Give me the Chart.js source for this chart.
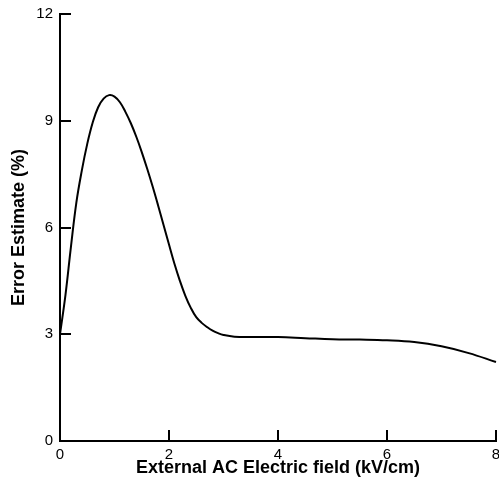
<!DOCTYPE html>
<html>
<head>
<meta charset="utf-8">
<script src="https://cdn.jsdelivr.net/npm/chart.js@4/dist/chart.umd.min.js"></script>
<style>
  html, body { margin: 0; padding: 0; background: #fff; }
  #wrap { width: 499px; height: 483px; }
</style>
</head>
<body>
<div id="wrap"><canvas id="chart"></canvas></div>
<script>
/* field values (kV/cm) and error estimate (%) */
const FIELD = [0, 0.1, 0.2, 0.3, 0.4, 0.5, 0.6, 0.7, 0.8, 0.9, 1.0, 1.1, 1.2, 1.3, 1.4, 1.5, 1.6, 1.7, 1.8, 1.9,
               2.0, 2.1, 2.2, 2.3, 2.4, 2.5, 2.6, 2.7, 2.8, 2.9, 3.0, 3.2, 3.5, 4.0, 4.5, 5.0, 5.5, 6.0, 6.5,
               7.0, 7.5, 8.0];
const ERROR = [3.0, 4.1, 5.45, 6.7, 7.6, 8.35, 8.95, 9.38, 9.62, 9.72, 9.68, 9.52, 9.25, 8.93, 8.55, 8.12,
               7.65, 7.15, 6.62, 6.07, 5.52, 4.98, 4.5, 4.08, 3.74, 3.48, 3.32, 3.2, 3.1, 3.03, 2.98, 2.93,
               2.92, 2.92, 2.89, 2.86, 2.85, 2.83, 2.78, 2.66, 2.47, 2.22];
const X_TICKS = [0, 2, 4, 6, 8];
const Y_TICKS = [0, 3, 6, 9, 12];

const FONT = 'Liberation Sans, Arial, Helvetica, sans-serif';

/* inward tick marks, like the original plot */
const inwardTicks = {
  id: 'inwardTicks',
  afterDraw(chart) {
    const { ctx, chartArea, scales: { x, y } } = chart;
    const len = 11;
    ctx.save();
    ctx.strokeStyle = '#000';
    ctx.lineWidth = 2;
    ctx.beginPath();
    X_TICKS.forEach(v => {
      const px = Math.round(x.getPixelForValue(v));
      ctx.moveTo(px, chartArea.bottom);
      ctx.lineTo(px, chartArea.bottom - len);
    });
    Y_TICKS.forEach(v => {
      const py = Math.round(y.getPixelForValue(v));
      ctx.moveTo(chartArea.left, py);
      ctx.lineTo(chartArea.left + len, py);
    });
    ctx.stroke();
    ctx.restore();
  },
};

new Chart(document.getElementById('chart'), {
  type: 'scatter',
  data: {
    datasets: [{
      data: FIELD.map((f, i) => ({ x: f, y: ERROR[i] })),
      showLine: true,
      borderColor: '#000',
      borderWidth: 2,
      pointRadius: 0,
      tension: 0.4,
      clip: false,
    }],
  },
  options: {
    responsive: true,
    maintainAspectRatio: false,
    animation: false,
    events: [],
    layout: { padding: { top: 14, right: 3, left: 0, bottom: 0 } },
    plugins: { legend: { display: false }, tooltip: { enabled: false } },
    scales: {
      x: {
        type: 'linear',
        min: 0, max: 8,
        afterBuildTicks: s => { s.ticks = X_TICKS.map(v => ({ value: v })); },
        afterFit: s => { s.height = 42; s.paddingLeft = 0; s.paddingRight = 0; },
        grid: { drawOnChartArea: false, drawTicks: false },
        border: { display: true, color: '#000', width: 2 },
        ticks: { color: '#000', padding: 5, font: { family: FONT, size: 15 }, maxRotation: 0 },
        title: {
          display: true,
          text: 'External AC Electric field (kV/cm)',
          color: '#000',
          font: { family: FONT, size: 18, weight: 'bold' },
          padding: { top: 0, bottom: 4 },
        },
      },
      y: {
        type: 'linear',
        min: 0, max: 12,
        afterBuildTicks: s => { s.ticks = Y_TICKS.map(v => ({ value: v })); },
        afterFit: s => { s.width = 60; s.paddingTop = 0; s.paddingBottom = 0; },
        grid: { drawOnChartArea: false, drawTicks: false },
        border: { display: true, color: '#000', width: 2 },
        ticks: { color: '#000', padding: 7, font: { family: FONT, size: 15 } },
        title: {
          display: true,
          text: 'Error Estimate (%)',
          color: '#000',
          font: { family: FONT, size: 18, weight: 'bold' },
          padding: { top: 8, bottom: 0 },
        },
      },
    },
  },
  plugins: [inwardTicks],
});
</script>
</body>
</html>
